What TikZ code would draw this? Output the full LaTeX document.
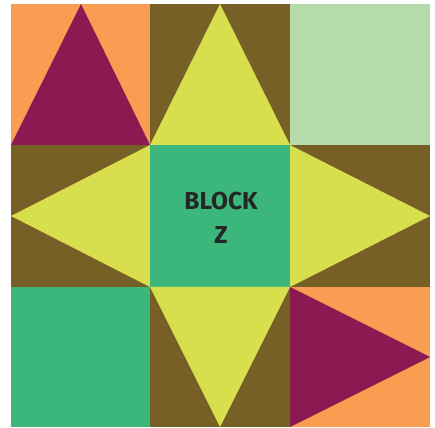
\documentclass[tikz,border=0pt]{standalone}
\usepackage{fontspec}
\setsansfont{Fira Sans}
\definecolor{org}{HTML}{F99D53}
\definecolor{mar}{HTML}{8B1A52}
\definecolor{olv}{HTML}{766026}
\definecolor{yel}{HTML}{D7DF4F}
\definecolor{grn}{HTML}{3BB77C}
\definecolor{lgr}{HTML}{B5DBAA}
\begin{document}
\begin{tikzpicture}[x=1pt,y=1pt,
  patch/.style={line width=0pt}]
\useasboundingbox (0,0) rectangle (435,427);
% grid: x 11,150,290,430 ; y (image) 4,145,287,427 -> tikz 423,282,140,0
\fill[white] (0,0) rectangle (435,427);
% top-left
\fill[org] (11,282) rectangle (150,423);
\fill[mar] (11,282) -- (81,423) -- (150,282) -- cycle;
% top-middle
\fill[olv] (150,282) rectangle (290,423);
\fill[yel] (150,282) -- (220,423) -- (290,282) -- cycle;
% top-right
\fill[lgr] (290,282) rectangle (430,423);
% middle-left
\fill[olv] (11,140) rectangle (150,282);
\fill[yel] (150,140) -- (11,211) -- (150,282) -- cycle;
% center
\fill[grn] (150,140) rectangle (290,282);
% middle-right
\fill[olv] (290,140) rectangle (430,282);
\fill[yel] (290,140) -- (430,211) -- (290,282) -- cycle;
% bottom-left
\fill[grn] (11,0) rectangle (150,140);
% bottom-middle
\fill[olv] (150,0) rectangle (290,140);
\fill[yel] (150,140) -- (220,0) -- (290,140) -- cycle;
% bottom-right
\fill[org] (290,0) rectangle (430,140);
\fill[mar] (290,140) -- (430,70) -- (290,0) -- cycle;
\node[font=\sffamily\bfseries\fontsize{24.5}{34}\selectfont, text=black!85, align=center, inner sep=0pt] (lbl) at (221,209.5) {BLOCK\\Z};
\end{tikzpicture}
\end{document}
